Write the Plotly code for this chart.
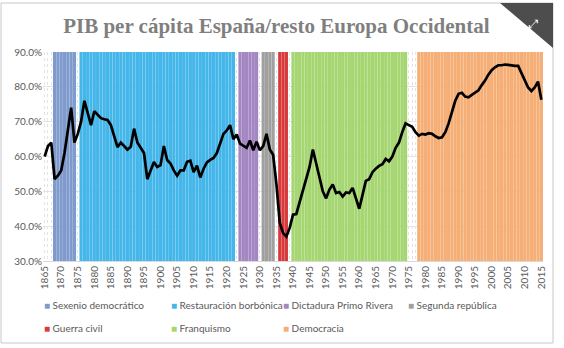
import plotly.graph_objects as go

years = list(range(1865, 2016))
pib = [
    60, 63, 64, 53.5, 54.5, 56, 61, 68, 74, 64,            # 1865-1874
    66.5, 70, 76, 72.5, 69, 73, 72, 71, 70.7, 70.5,        # 1875-1884
    69, 66, 62.7, 64, 63, 62, 62.8, 68, 64, 62.5,          # 1885-1894
    61, 53.5, 56, 58.4, 57, 57.5, 63, 59, 58, 56,          # 1895-1904
    54.5, 56, 56, 58.5, 58.8, 55.5, 57.4, 54, 56.5, 58.3,  # 1905-1914
    59, 59.6, 61, 63.5, 66.5, 67.5, 69, 65, 66.3, 63.7,    # 1915-1924
    63.2, 62.5, 64.6, 61.8, 64.2, 61.8, 63, 66.5, 62, 60.5,  # 1925-1934
    52, 41, 38, 37, 39.5, 43.3, 43.5, 47, 50, 54,          # 1935-1944
    57, 62, 58, 54, 50, 48, 50.5, 52, 49.5, 49.8,          # 1945-1954
    48.5, 49.7, 49.5, 51, 48, 45, 49, 53, 53.5, 55.5,      # 1955-1964
    56.5, 57.3, 57.8, 59.3, 58.6, 60, 62.5, 64, 67, 69.5,  # 1965-1974
    69, 68.5, 67, 66, 66.5, 66.3, 66.7, 66.5, 65.8, 65.3,  # 1975-1984
    65.5, 67, 69.5, 72.5, 76, 78, 78.3, 77.2, 77, 77.7,    # 1985-1994
    78.3, 79, 80.5, 81.8, 83.5, 84.8, 85.6, 86.2, 86.2, 86.4,  # 1995-2004
    86.3, 86.1, 86, 86, 84, 81.5, 79.8, 78.8, 79.8, 81.5,  # 2005-2014
    76.3,                                                  # 2015
]
assert len(pib) == len(years)

periods = ["Sexenio democrático", "Restauración borbónica", "Dictadura Primo Rivera",
           "Segunda república", "Guerra civil", "Franquismo", "Democracia"]
period_start = [1868, 1876, 1924, 1931, 1936, 1940, 1978]
period_end = [1874, 1922, 1929, 1934, 1938, 1974, 2015]
period_colors = ["#7f9bcd", "#45b6ea", "#a386c2", "#a0a0a0", "#d8393c", "#a5d671", "#f5ae75"]
band_top = 90

# legend entry placement (pixels of the swatch's left edge / legend row top)
leg_px_x = [44, 171, 283, 408, 44, 171, 283]
leg_px_y = [291, 291, 291, 291, 314, 314, 314]

fig = go.Figure()
for name, s, e, c in zip(periods, period_start, period_end, period_colors):
    xs = list(range(s, e + 1))
    fig.add_trace(go.Bar(x=xs, y=[band_top] * len(xs), marker=dict(color=c, line=dict(width=0)),
                         name=name, showlegend=False, hoverinfo="skip"))

fig.add_trace(go.Scatter(x=years, y=pib, mode="lines", line=dict(color="black", width=2.7),
                         showlegend=False, name="PIB"))

legend_layout = {}
for i, (name, c) in enumerate(zip(periods, period_colors)):
    key = "legend" if i == 0 else "legend{}".format(i + 1)
    fig.add_trace(go.Scatter(
        x=[None], y=[None], mode="markers", legend=key,
        name='<span style="color:{};font-size:10px">■</span> {}'.format(c, name),
        marker=dict(symbol="square", size=1, color="rgba(0,0,0,0)")))
    legend_layout[key] = dict(
        x=(leg_px_x[i] - 40 - 43) / 500, y=(261 - leg_px_y[i]) / 209,
        orientation="h", xanchor="left", yanchor="top", itemwidth=30,
        bgcolor="rgba(0,0,0,0)", font=dict(family="Lato", size=10, color="#595959"))

fig.update_layout(
    width=564, height=348,
    margin=dict(l=43, r=21, t=52, b=87, autoexpand=False),
    paper_bgcolor="white", plot_bgcolor="white",
    bargap=0.03,
    title=dict(text="<b>PIB per cápita España/resto Europa Occidental</b>",
               font=dict(family="Liberation Serif", size=21, color="#7f7f7f"),
               x=0.49, xanchor="center", y=0.925, yanchor="middle"),
    font=dict(family="Lato", size=10, color="#595959"),
    showlegend=True,
    **legend_layout,
)
fig.update_xaxes(range=[1864.5, 2015.5], tickmode="linear", tick0=1865, dtick=5,
                 tickangle=-90, showgrid=True, gridcolor="#e4e4e4", griddash="dot",
                 minor=dict(dtick=1, showgrid=True, gridcolor="#e4e4e4", griddash="dot"),
                 showline=True, linecolor="#d9d9d9", ticks="", zeroline=False,
                 tickfont=dict(size=10, color="#595959"))
fig.update_yaxes(range=[30, 90], tickmode="linear", tick0=30, dtick=10,
                 tickformat=".1f", ticksuffix="%", showgrid=True, gridcolor="#e4e4e4",
                 zeroline=False, tickfont=dict(size=10, color="#595959"))

# card frame and corner badge
fig.add_shape(type="rect", xref="paper", yref="paper",
              x0=(1 - 43) / 500, x1=(553 - 43) / 500, y0=(261 - 343) / 209, y1=(261 - 3) / 209,
              line=dict(color="#c8c8c8", width=1), fillcolor="rgba(0,0,0,0)", layer="below")
fig.add_shape(type="path", xref="paper", yref="paper",
              path="M {:.4f},{:.4f} L {:.4f},{:.4f} L {:.4f},{:.4f} Z".format(
                  (500 - 43) / 500, (261 - 3) / 209, (553 - 43) / 500, (261 - 3) / 209,
                  (553 - 43) / 500, (261 - 48) / 209),
              fillcolor="#4d4d4d", line=dict(width=0), layer="above")
fig.add_annotation(xref="paper", yref="paper", x=(541 - 43) / 500, y=(261 - 15) / 209,
                   text="⤢", showarrow=False, font=dict(size=12, color="white", family="DejaVu Sans"))

fig.write_html("out.html")
